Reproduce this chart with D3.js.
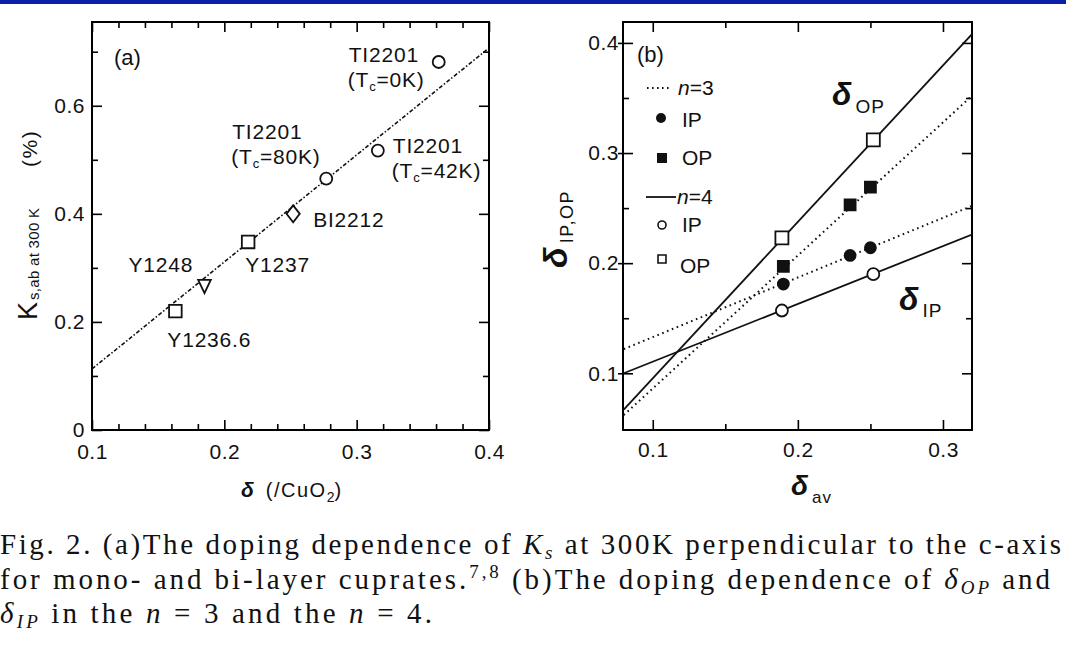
<!DOCTYPE html>
<html>
<head>
<meta charset="utf-8">
<script src="https://cdn.jsdelivr.net/npm/d3@7"></script>
<style>
body { margin: 0; background: #fff; }
svg { display: block; font-family: "Liberation Sans", Arial, sans-serif; }
</style>
</head>
<body>
<script>
var width = 1066, height = 645;

// (a) Knight shift K_s,ab at 300 K against hole doping per CuO2
var aNames = ["Y1236.6", "Y1248", "Y1237", "Bi2212", "Tl2201 (Tc=80K)", "Tl2201 (Tc=42K)", "Tl2201 (Tc=0K)"];
var aDelta = [0.163, 0.185, 0.218, 0.252, 0.277, 0.316, 0.362];
var aKs = [0.220, 0.268, 0.348, 0.400, 0.465, 0.517, 0.681];
var aShape = ["square", "triangle", "square", "diamond", "circle", "circle", "circle"];
var aFitDelta = [0.1, 0.4];
var aFitKs = [0.113, 0.707];
var aXMajor = [0.1, 0.2, 0.3, 0.4];
var aXMinor = d3.range(5, 21).filter(function(i) { return i % 5 != 0; }).map(function(i) { return i * 0.02; });
var aYMajor = [0, 0.2, 0.4, 0.6];
var aYMinor = [0.1, 0.3, 0.5, 0.7];

// (b) plane dependent doping, n=3 and n=4
var n3Av = [0.190, 0.236, 0.250];
var n3IP = [0.181, 0.207, 0.214];
var n3OP = [0.197, 0.253, 0.269];
var n4Av = [0.189, 0.252];
var n4IP = [0.157, 0.190];
var n4OP = [0.223, 0.312];
var fitAv = [0.08, 0.32];
var n3IPFit = [0.122, 0.252];
var n3OPFit = [0.062, 0.352];
var n4IPFit = [0.100, 0.226];
var n4OPFit = [0.067, 0.408];
var bXMajor = [0.1, 0.2, 0.3];
var bXMinor = [0.15, 0.25];
var bYMajor = [0.1, 0.2, 0.3, 0.4];
var bYMinor = [0.15, 0.25, 0.35];

var svg = d3.select("body").append("svg")
    .attr("width", width)
    .attr("height", height);

svg.append("rect").attr("x", 0).attr("y", 0).attr("width", width).attr("height", 4).attr("fill", "#0a21a6");

var xa = d3.scaleLinear().domain([0.1, 0.4]).range([92, 489]);
var ya = d3.scaleLinear().domain([0, 0.755]).range([430, 22]);
var xb = d3.scaleLinear().domain([0.0795, 0.32]).range([623, 972]);
var yb = d3.scaleLinear().domain([0.0485, 0.419]).range([430, 22]);

function axes(x, y, o) {
    var g = svg.append("g");
    var x0 = x.range()[0], x1 = x.range()[1], y0 = y.range()[0], y1 = y.range()[1];
    var parts = [
        [d3.axisBottom(x).tickValues(o.xMajor).tickSize(-10).tickPadding(o.xPad).tickFormat(d3.format(".1f")), 0, y0],
        [d3.axisBottom(x).tickValues(o.xMinor).tickSize(-6).tickFormat(""), 0, y0],
        [d3.axisTop(x).tickValues(o.xMajor).tickSize(-10).tickFormat(""), 0, y1],
        [d3.axisTop(x).tickValues(o.xMinor).tickSize(-6).tickFormat(""), 0, y1],
        [d3.axisLeft(y).tickValues(o.yMajor).tickSize(-10).tickPadding(o.yPad).tickFormat(o.yFmt), x0, 0],
        [d3.axisLeft(y).tickValues(o.yMinor).tickSize(-6).tickFormat(""), x0, 0],
        [d3.axisRight(y).tickValues(o.yMajor).tickSize(-10).tickFormat(""), x1, 0],
        [d3.axisRight(y).tickValues(o.yMinor).tickSize(-6).tickFormat(""), x1, 0]
    ];
    if (o.outLeft) parts.push([d3.axisLeft(y).tickValues(o.yMajor).tickSize(5).tickFormat(""), x0, 0]);
    parts.forEach(function(p) {
        var a = g.append("g").attr("transform", "translate(" + p[1] + "," + p[2] + ")").call(p[0]);
        a.select(".domain").remove();
        a.selectAll("line").attr("stroke", "#000").attr("stroke-width", 1.6);
        a.selectAll("text").attr("fill", "#111")
            .attr("font-family", "'Liberation Sans', Arial, sans-serif")
            .attr("font-size", 21).attr("letter-spacing", 0.5);
    });
    g.append("rect").attr("x", x0).attr("y", y1).attr("width", x1 - x0).attr("height", y0 - y1)
        .attr("fill", "none").attr("stroke", "#000").attr("stroke-width", 2);
    return g;
}

axes(xa, ya, { xMajor: aXMajor, xMinor: aXMinor, yMajor: aYMajor, yMinor: aYMinor, xPad: 14, yPad: 7,
    yFmt: function(d) { return d == 0 ? "0" : d3.format(".1f")(d); } });
axes(xb, yb, { xMajor: bXMajor, xMinor: bXMinor, yMajor: bYMajor, yMinor: bYMinor, xPad: 12, yPad: 4,
    yFmt: d3.format(".1f"), outLeft: true });

function shapePath(kind, s) {
    if (kind == "square") return "M" + (-s) + "," + (-s) + "h" + 2 * s + "v" + 2 * s + "h" + (-2 * s) + "Z";
    if (kind == "diamond") return "M0," + (-s * 1.35) + "L" + s * 1.05 + ",0L0," + s * 1.35 + "L" + (-s * 1.05) + ",0Z";
    if (kind == "triangle") return "M" + (-s) + "," + (-s * 0.85) + "L" + s + "," + (-s * 0.85) + "L0," + s * 1.25 + "Z";
    return d3.symbol(d3.symbolCircle, Math.PI * s * s)();
}

// ---- panel (a)
var pa = svg.append("g");
pa.append("path")
    .attr("d", d3.line().x(function(d, i) { return xa(d); }).y(function(d, i) { return ya(aFitKs[i]); })(aFitDelta))
    .attr("fill", "none").attr("stroke", "#111").attr("stroke-width", 1.6)
    .attr("stroke-dasharray", "4,2,1.5,2");

pa.selectAll(".pt").data(aDelta).enter().append("path")
    .attr("transform", function(d, i) { return "translate(" + xa(d) + "," + ya(aKs[i]) + ")"; })
    .attr("d", function(d, i) { return shapePath(aShape[i], aShape[i] == "circle" ? 6 : 6.3); })
    .attr("fill", "#fff").attr("stroke", "#111").attr("stroke-width", 1.8);

// label offsets from each point, in pixels: [dx, dy] of first line
var aLabelOff = [[-8, 36], [-76, -13], [-3, 30], [20, 13], [-94, -40], [15, 2], [-90, 0]];
aNames.forEach(function(name, i) {
    var px = xa(aDelta[i]) + aLabelOff[i][0], py = ya(aKs[i]) + aLabelOff[i][1];
    var m = name.match(/^(\S+) \(Tc=(\d+K)\)$/);
    var t = pa.append("text").attr("x", px).attr("y", py)
        .attr("font-size", 21).attr("letter-spacing", 0.8).attr("fill", "#111");
    if (!m) { t.text(name.replace("Bi", "BI")); return; }
    t.text(m[1].replace("Tl", "TI"));
    var t2 = pa.append("text").attr("x", px - 1).attr("y", py + 25)
        .attr("font-size", 21).attr("letter-spacing", 0.8).attr("fill", "#111");
    t2.append("tspan").text("(T");
    t2.append("tspan").attr("font-size", 13).attr("dy", 4).text("c");
    t2.append("tspan").attr("dy", -4).text("=" + m[2] + ")");
});

pa.append("text").attr("x", 114).attr("y", 65).attr("font-size", 22).attr("fill", "#111").text("(a)");

var yla = svg.append("text").attr("transform", "translate(37,320) rotate(-90)").attr("fill", "#111");
yla.append("tspan").attr("font-size", 27).text("K");
yla.append("tspan").attr("font-size", 15).attr("dy", 2).attr("dx", 2).attr("letter-spacing", 0.3).text("s,ab at 300 K");
svg.append("text").attr("transform", "translate(37,167) rotate(-90)").attr("fill", "#111")
    .attr("font-size", 21).attr("letter-spacing", 1.5).text("(%)");

var xla = svg.append("text").attr("x", 241).attr("y", 497).attr("fill", "#111");
xla.append("tspan").attr("font-size", 21).attr("font-style", "italic").attr("font-weight", "bold").text("δ");
xla.append("tspan").attr("font-size", 20).attr("dx", 12).attr("letter-spacing", 1.5).text("(/CuO");
xla.append("tspan").attr("font-size", 14).attr("dy", 5).text("2");
xla.append("tspan").attr("font-size", 20).attr("dy", -5).text(")");

// ---- panel (b)
var pb = svg.append("g");
var clip = svg.append("clipPath").attr("id", "clipb").append("rect")
    .attr("x", 623).attr("y", 22).attr("width", 349).attr("height", 408);
var fitLine = d3.line().x(function(d) { return xb(d[0]); }).y(function(d) { return yb(d[1]); });
var fits = [
    [n3IPFit, "1.6,3.6"], [n3OPFit, "1.6,3.6"], [n4IPFit, null], [n4OPFit, null]
];
fits.forEach(function(f) {
    pb.append("path").attr("clip-path", "url(#clipb)")
        .attr("d", fitLine(fitAv.map(function(a, i) { return [a, f[0][i]]; })))
        .attr("fill", "none").attr("stroke", "#111").attr("stroke-width", f[1] ? 2 : 1.8)
        .attr("stroke-dasharray", f[1]);
});

function points(av, vals, kind, filled, s) {
    pb.selectAll(null).data(av).enter().append("path")
        .attr("transform", function(d, i) { return "translate(" + xb(d) + "," + yb(vals[i]) + ")"; })
        .attr("d", shapePath(kind, s))
        .attr("fill", filled ? "#111" : "#fff").attr("stroke", "#111").attr("stroke-width", 1.8);
}
points(n3Av, n3IP, "circle", true, 5.5);
points(n3Av, n3OP, "square", true, 5.5);
points(n4Av, n4IP, "circle", false, 6);
points(n4Av, n4OP, "square", false, 6.5);

pb.append("text").attr("x", 637).attr("y", 62).attr("font-size", 22).attr("fill", "#111").text("(b)");

// legend
var lg = pb.append("g").attr("fill", "#111").attr("font-size", 21);
lg.append("line").attr("x1", 647).attr("x2", 672).attr("y1", 88).attr("y2", 88)
    .attr("stroke", "#111").attr("stroke-width", 2).attr("stroke-dasharray", "1.6,3.4");
var t3 = lg.append("text").attr("x", 678).attr("y", 95);
t3.append("tspan").attr("font-style", "italic").text("n");
t3.append("tspan").text("=3");
lg.append("path").attr("transform", "translate(661,118)").attr("d", shapePath("circle", 5)).attr("fill", "#111");
lg.append("text").attr("x", 682).attr("y", 127).text("IP");
lg.append("path").attr("transform", "translate(662,158)").attr("d", shapePath("square", 5)).attr("fill", "#111");
lg.append("text").attr("x", 682).attr("y", 165).text("OP");
lg.append("line").attr("x1", 646).attr("x2", 676).attr("y1", 197).attr("y2", 197)
    .attr("stroke", "#111").attr("stroke-width", 1.8);
var t4 = lg.append("text").attr("x", 677).attr("y", 204);
t4.append("tspan").attr("font-style", "italic").text("n");
t4.append("tspan").text("=4");
lg.append("path").attr("transform", "translate(662,225)").attr("d", shapePath("circle", 4))
    .attr("fill", "#fff").attr("stroke", "#111").attr("stroke-width", 1.6);
lg.append("text").attr("x", 682).attr("y", 232).text("IP");
lg.append("path").attr("transform", "translate(662,259)").attr("d", shapePath("square", 4))
    .attr("fill", "#fff").attr("stroke", "#111").attr("stroke-width", 1.6);
lg.append("text").attr("x", 680).attr("y", 273).text("OP");

function deltaLabel(x, y, sub, big, small, drop) {
    var t = svg.append("text").attr("x", x).attr("y", y).attr("fill", "#111");
    t.append("tspan").attr("font-size", big).attr("font-style", "italic").attr("font-weight", "bold").text("δ");
    t.append("tspan").attr("font-size", small).attr("dx", 4).attr("dy", drop).attr("letter-spacing", 1).text(sub);
    return t;
}
deltaLabel(832, 105, "OP", 32, 19, 8);
deltaLabel(899, 310, "IP", 32, 19, 7);
deltaLabel(791, 495, "av", 28, 17, 8);

var ylb = svg.append("text").attr("transform", "translate(567,268) rotate(-90)").attr("fill", "#111");
ylb.append("tspan").attr("font-size", 34).attr("font-style", "italic").attr("font-weight", "bold").text("δ");
ylb.append("tspan").attr("font-size", 18).attr("dx", 4).attr("dy", 6).attr("letter-spacing", 1.5).text("IP,OP");

// ---- caption
var cap = svg.append("g").attr("font-family", "'Liberation Serif', 'Times New Roman', serif")
    .attr("font-size", 29).attr("fill", "#111");
var c1 = cap.append("text").attr("x", 0).attr("y", 554).attr("textLength", 1061).attr("lengthAdjust", "spacing");
c1.append("tspan").text("Fig. 2. (a)The doping dependence of ");
c1.append("tspan").attr("font-style", "italic").text("K");
c1.append("tspan").attr("font-style", "italic").attr("font-size", 19).attr("dy", 5).text("s");
c1.append("tspan").attr("dy", -5).text(" at 300K perpendicular to the c-axis");

var c2 = cap.append("text").attr("x", 0).attr("y", 589).attr("textLength", 1050).attr("lengthAdjust", "spacing");
c2.append("tspan").text("for mono- and bi-layer cuprates.");
c2.append("tspan").attr("font-size", 19).attr("dy", -11).text("7,8");
c2.append("tspan").attr("dy", 11).text(" (b)The doping dependence of ");
c2.append("tspan").attr("font-style", "italic").text("δ");
c2.append("tspan").attr("font-style", "italic").attr("font-size", 19).attr("dy", 5).text("OP");
c2.append("tspan").attr("dy", -5).text(" and");

var c3 = cap.append("text").attr("x", 0).attr("y", 623).attr("textLength", 432).attr("lengthAdjust", "spacing");
c3.append("tspan").attr("font-style", "italic").text("δ");
c3.append("tspan").attr("font-style", "italic").attr("font-size", 19).attr("dy", 5).text("IP");
c3.append("tspan").attr("dy", -5).text(" in the ");
c3.append("tspan").attr("font-style", "italic").text("n");
c3.append("tspan").text(" = 3 and the ");
c3.append("tspan").attr("font-style", "italic").text("n");
c3.append("tspan").text(" = 4.");
</script>
</body>
</html>
